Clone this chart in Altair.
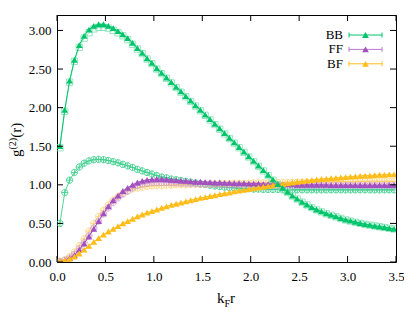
import altair as alt
import pandas as pd

# ---------------- data ----------------
R = [0.03, 0.08, 0.13, 0.18, 0.23, 0.28, 0.33, 0.38, 0.43, 0.48,
     0.53, 0.58, 0.63, 0.68, 0.73, 0.78, 0.83, 0.88, 0.93, 0.98,
     1.03, 1.08, 1.13, 1.18, 1.23, 1.28, 1.33, 1.38, 1.43, 1.48,
     1.53, 1.58, 1.63, 1.68, 1.73, 1.78, 1.83, 1.88, 1.93, 1.98,
     2.03, 2.08, 2.13, 2.18, 2.23, 2.28, 2.33, 2.38, 2.43, 2.48,
     2.53, 2.58, 2.63, 2.68, 2.73, 2.78, 2.83, 2.88, 2.93, 2.98,
     3.03, 3.08, 3.13, 3.18, 3.23, 3.28, 3.33, 3.38, 3.43, 3.48]

BB = [1.50, 1.97, 2.35, 2.62, 2.81, 2.93, 3.01, 3.06, 3.08, 3.08,
      3.06, 3.03, 2.99, 2.95, 2.90, 2.84, 2.77, 2.71, 2.64, 2.58,
      2.51, 2.45, 2.39, 2.33, 2.27, 2.21, 2.15, 2.09, 2.03, 1.97,
      1.91, 1.85, 1.79, 1.73, 1.67, 1.61, 1.55, 1.49, 1.43, 1.37,
      1.31, 1.25, 1.19, 1.13, 1.07, 1.01, 0.96, 0.91, 0.86, 0.82,
      0.78, 0.745, 0.71, 0.68, 0.655, 0.63, 0.61, 0.59, 0.57, 0.55,
      0.535, 0.52, 0.505, 0.49, 0.48, 0.47, 0.46, 0.45, 0.44, 0.43]

BB_SQ = [1.48, 1.95, 2.33, 2.60, 2.78, 2.90, 2.97, 3.02, 3.04, 3.04,
         3.03, 3.00, 2.97, 2.93, 2.88, 2.82, 2.76, 2.70, 2.63, 2.57,
         2.50, 2.44, 2.38, 2.32, 2.26, 2.20, 2.14, 2.08, 2.02, 1.96,
         1.90, 1.84, 1.78, 1.72, 1.66, 1.60, 1.54, 1.48, 1.42, 1.36,
         1.30, 1.24, 1.18, 1.12, 1.06, 1.00, 0.95, 0.90, 0.855, 0.815,
         0.775, 0.74, 0.705, 0.675, 0.65, 0.625, 0.605, 0.585, 0.565, 0.545,
         0.53, 0.515, 0.50, 0.487, 0.477, 0.467, 0.457, 0.447, 0.437, 0.428]

BB_CI = [0.50, 0.90, 1.06, 1.16, 1.23, 1.28, 1.31, 1.325, 1.33, 1.325,
         1.315, 1.30, 1.285, 1.265, 1.245, 1.225, 1.20, 1.18, 1.16, 1.14,
         1.12, 1.10, 1.09, 1.075, 1.065, 1.055, 1.045, 1.035, 1.025, 1.015,
         1.005, 0.995, 0.985, 0.978, 0.97, 0.965, 0.96, 0.955, 0.95, 0.95,
         0.945, 0.945, 0.94, 0.94, 0.94, 0.94, 0.935, 0.935, 0.935, 0.935,
         0.935, 0.935, 0.935, 0.935, 0.935, 0.935, 0.935, 0.935, 0.935, 0.935,
         0.935, 0.935, 0.935, 0.935, 0.935, 0.935, 0.935, 0.935, 0.935, 0.935]

FF = [0.01, 0.02, 0.05, 0.09, 0.16, 0.24, 0.33, 0.43, 0.53, 0.63,
      0.72, 0.80, 0.86, 0.92, 0.96, 1.00, 1.03, 1.05, 1.065, 1.07,
      1.075, 1.075, 1.07, 1.065, 1.06, 1.055, 1.05, 1.045, 1.04, 1.04,
      1.035, 1.035, 1.03, 1.03, 1.025, 1.025, 1.02, 1.02, 1.02, 1.015,
      1.015, 1.015, 1.01, 1.01, 1.01, 1.01, 1.005, 1.005, 1.005, 1.0,
      1.0, 1.0, 1.0, 1.0, 1.0, 1.0, 0.995, 0.995, 0.995, 0.995,
      0.995, 0.995, 0.995, 0.995, 0.995, 0.995, 0.995, 0.995, 0.995, 0.995]

FF_CI = [0.0, 0.02, 0.05, 0.10, 0.17, 0.25, 0.34, 0.44, 0.53, 0.62,
         0.70, 0.77, 0.83, 0.88, 0.92, 0.96, 0.99, 1.01, 1.02, 1.03,
         1.03, 1.03, 1.03, 1.025, 1.025, 1.02, 1.02, 1.015, 1.015, 1.01,
         1.01, 1.01, 1.005, 1.005, 1.0, 1.0, 1.0, 1.0, 0.995, 0.995,
         0.995, 0.99, 0.99, 0.99, 0.99, 0.99, 0.99, 0.99, 0.99, 0.99,
         0.99, 0.99, 0.99, 0.99, 0.99, 0.99, 0.99, 0.99, 0.99, 0.99,
         0.99, 0.99, 0.99, 0.99, 0.99, 0.99, 0.99, 0.99, 0.99, 0.99]

BF = [0.01, 0.02, 0.04, 0.07, 0.11, 0.16, 0.21, 0.26, 0.31, 0.355,
      0.395, 0.43, 0.465, 0.50, 0.53, 0.56, 0.59, 0.615, 0.64, 0.66,
      0.68, 0.70, 0.72, 0.74, 0.755, 0.77, 0.785, 0.80, 0.815, 0.83,
      0.84, 0.855, 0.865, 0.88, 0.89, 0.90, 0.915, 0.925, 0.935, 0.945,
      0.955, 0.965, 0.975, 0.985, 0.995, 1.005, 1.01, 1.02, 1.03, 1.04,
      1.045, 1.055, 1.06, 1.07, 1.075, 1.08, 1.085, 1.09, 1.095, 1.10,
      1.105, 1.11, 1.115, 1.12, 1.12, 1.125, 1.13, 1.13, 1.135, 1.135]

BF_CI = [0.01, 0.03, 0.07, 0.13, 0.21, 0.30, 0.40, 0.50, 0.59, 0.67,
         0.74, 0.80, 0.85, 0.89, 0.92, 0.945, 0.96, 0.97, 0.98, 0.985,
         0.99, 0.99, 0.995, 0.995, 1.0, 1.0, 1.0, 1.005, 1.005, 1.005,
         1.01, 1.01, 1.01, 1.015, 1.015, 1.015, 1.02, 1.02, 1.02, 1.02,
         1.025, 1.025, 1.025, 1.025, 1.03, 1.03, 1.03, 1.03, 1.03, 1.035,
         1.035, 1.035, 1.035, 1.035, 1.04, 1.04, 1.04, 1.04, 1.04, 1.04,
         1.04, 1.045, 1.045, 1.045, 1.045, 1.045, 1.045, 1.045, 1.045, 1.045]

X_TICKS = [0.0, 0.5, 1.0, 1.5, 2.0, 2.5, 3.0, 3.5]
Y_TICKS = [0.0, 0.5, 1.0, 1.5, 2.0, 2.5, 3.0]
LEGEND = ["BB", "FF", "BF"]

# ---------------- styling ----------------
W, H = 339, 247
FONT = "Liberation Serif"
GREEN = "#00c46a"
PURPLE = "#a24fbf"
YELLOW = "#ffbd1a"
GREEN_L = "#3fd08e"
PURPLE_L = "#c994dc"
YELLOW_L = "#ffcc5c"
CIRCLE_PLUS = "M-1,0A1,1 0 1,1 1,0A1,1 0 1,1 -1,0M-1,0L1,0M0,-1L0,1"

xscale = alt.Scale(domain=[0, 3.5], nice=False, zero=False)
yscale = alt.Scale(domain=[0, 3.2], nice=False, zero=False)
XAXIS = alt.Axis(values=X_TICKS, format=".1f", title=None, labelPadding=8, labelFlush=False)
YAXIS = alt.Axis(values=Y_TICKS, format=".2f", title=None, labelPadding=6, labelFlush=False)

X_ENC = alt.X("r:Q", scale=xscale, axis=XAXIS)
Y_ENC = alt.Y("g:Q", scale=yscale, axis=YAXIS)


def frame(vals):
    return pd.DataFrame({"r": R, "g": vals})


def series(vals, color, shape, size, filled, opacity=1.0, line_opacity=1.0):
    base = alt.Chart(frame(vals)).encode(x=X_ENC, y=Y_ENC)
    line = base.mark_line(color=color, strokeWidth=1, opacity=line_opacity, clip=True)
    pts = base.mark_point(shape=shape, size=size, filled=filled, color=color,
                          opacity=opacity, strokeWidth=1, clip=True)
    return [line, pts]


layers = []
layers += series(BB_CI, GREEN_L, CIRCLE_PLUS, 40, False, 0.9, 0.9)
layers += series(BF_CI, YELLOW_L, CIRCLE_PLUS, 40, False, 0.7, 0.7)
layers += series(FF_CI, PURPLE_L, CIRCLE_PLUS, 40, False, 0.7, 0.7)
layers += series(BB_SQ, "#7fe0b4", "square", 40, False, 0.8, 0.8)
layers += series(FF, PURPLE, "triangle-up", 45, True)
layers += series(BF, YELLOW, "triangle-up", 45, True)
layers += series(BB, GREEN, "triangle-up", 45, True)

# inward ticks on all four sides (same scales and axes as the data)
tx = pd.DataFrame({"r": X_TICKS})
ty = pd.DataFrame({"g": Y_TICKS})
TL = 6
layers.append(alt.Chart(tx).mark_rule(color="black").encode(x=X_ENC, y=alt.value(H), y2=alt.value(H - TL)))
layers.append(alt.Chart(tx).mark_rule(color="black").encode(x=X_ENC, y=alt.value(0), y2=alt.value(TL)))
layers.append(alt.Chart(ty).mark_rule(color="black").encode(y=Y_ENC, x=alt.value(0), x2=alt.value(TL)))
layers.append(alt.Chart(ty).mark_rule(color="black").encode(y=Y_ENC, x=alt.value(W), x2=alt.value(W - TL)))

# legend (top right, inside the plot)
one = pd.DataFrame({"a": [0]})
leg_colors = [GREEN, "#b978d0", YELLOW]
leg_tri = [GREEN, PURPLE, YELLOW]
for i, name in enumerate(LEGEND):
    yy = 20 + 14.4 * i
    layers.append(alt.Chart(one).mark_text(text=name, font=FONT, fontSize=13, align="right",
                                           baseline="middle", color="black")
                  .encode(x=alt.value(286), y=alt.value(yy)))
    layers.append(alt.Chart(one).mark_rule(color=leg_colors[i], strokeWidth=1)
                  .encode(x=alt.value(292), x2=alt.value(325), y=alt.value(yy)))
    for cx in (292, 325):
        layers.append(alt.Chart(one).mark_rule(color=leg_colors[i], strokeWidth=1)
                      .encode(x=alt.value(cx), y=alt.value(yy - 2.5), y2=alt.value(yy + 2.5)))
    layers.append(alt.Chart(one).mark_point(shape="triangle-up", size=45, filled=True,
                                            color=leg_tri[i], opacity=1)
                  .encode(x=alt.value(308.5), y=alt.value(yy)))


# axis titles with sub/superscripts
def txt(s, x, y, size, angle=0):
    return alt.Chart(one).mark_text(text=s, font=FONT, fontSize=size, align="left",
                                    baseline="alphabetic", color="black", angle=angle
                                    ).encode(x=alt.value(x), y=alt.value(y))


layers.append(txt("k", 160, 287.5, 15))
layers.append(txt("F", 167.5, 291.5, 10))
layers.append(txt("r", 173.1, 287.5, 15))
layers.append(txt("g", -36.5, 142, 15, 270))
layers.append(txt("(2)", -41.5, 134.5, 10, 270))
layers.append(txt("(r)", -36.5, 122.8, 15, 270))

chart = alt.layer(*layers).properties(
    width=W, height=H,
    autosize=alt.AutoSizeParams(type="none"),
    padding={"left": 49, "top": 7, "right": 8, "bottom": 53},
).configure_view(stroke="black", strokeWidth=1).configure_axis(
    grid=False, domain=False, ticks=False, tickSize=0,
    labelFont=FONT, labelFontSize=13, labelColor="black",
)

chart.save("out.html", embed_options={"renderer": "svg", "actions": False})
